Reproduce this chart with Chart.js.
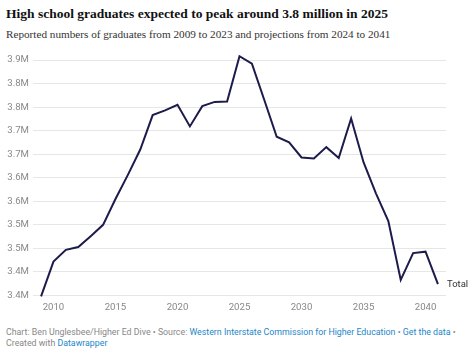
<!DOCTYPE html>
<html>
<head>
<meta charset="utf-8">
<script src="https://cdn.jsdelivr.net/npm/chart.js@4"></script>
<style>
body { margin: 0; background: #fff; }
#wrap { position: relative; width: 475px; height: 354px; overflow: hidden; }
#title { position: absolute; left: 6px; top: 6px; font: bold 13.5px "Liberation Serif", serif; color: #111; white-space: nowrap; }
#subtitle { position: absolute; left: 6px; top: 28px; font: 11.2px "Liberation Serif", serif; color: #333; white-space: nowrap; }
#box { position: absolute; left: 0; top: 48px; width: 475px; height: 270px; }
#footer { position: absolute; left: 6px; top: 327px; font: 8.8px Roboto, sans-serif; color: #888; line-height: 11px; width: 465px; }
#footer span.l { color: #1d87c9; }
</style>
</head>
<body>
<div id="wrap">
    <div id="title">High school graduates expected to peak around 3.8 million in 2025</div>
    <div id="subtitle">Reported numbers of graduates from 2009 to 2023 and projections from 2024 to 2041</div>
    <div id="box"><canvas id="gradChart"></canvas></div>
    <div id="footer">Chart: Ben Unglesbee/Higher Ed Dive • Source: <span class="l">Western Interstate Commission for Higher Education</span> • <span class="l">Get the data</span> •<br>Created with <span class="l">Datawrapper</span></div>
</div>
<script>
// Data
var years = [2009, 2010, 2011, 2012, 2013, 2014, 2015, 2016, 2017, 2018, 2019, 2020, 2021, 2022, 2023, 2024, 2025,
    2026, 2027, 2028, 2029, 2030, 2031, 2032, 2033, 2034, 2035, 2036, 2037, 2038, 2039, 2040, 2041];
var graduates = [3348000, 3422000, 3447000, 3453000, 3476000, 3500000, 3555000, 3606000, 3660000, 3733000, 3743000,
    3755000, 3709000, 3752000, 3761000, 3762000, 3858000, 3842000, 3765000, 3687000, 3675000, 3643000, 3641000,
    3665000, 3642000, 3726000, 3633000, 3567000, 3508000, 3383000, 3440000, 3443000, 3374000];
var xTickYears = [2010, 2015, 2020, 2025, 2030, 2035, 2040];
var seriesLabel = 'Total';

// Label at end of line
var endLabel = {
    id: 'endLabel',
    afterDatasetsDraw: function (chart)
    {
        var meta = chart.getDatasetMeta(0);
        var pt = meta.data[meta.data.length - 1];
        var ctx = chart.ctx;
        ctx.save();
        ctx.font = '9.5px Roboto, sans-serif';
        ctx.fillStyle = '#333';
        ctx.textBaseline = 'middle';
        ctx.fillText(seriesLabel, pt.x + 9, pt.y);
        ctx.restore();
    }
};

var ctx = document.getElementById('gradChart').getContext('2d');
var myChart = new Chart(ctx,
{
    type: 'line',
    data:
    {
        datasets: [
        {
            label: seriesLabel,
            data: years.map(function (y, i) { return { x: y, y: graduates[i] }; }),
            borderColor: '#1c1b4b',
            borderWidth: 2,
            pointRadius: 0,
            tension: 0,
            clip: false
        }]
    },
    options:
    {
        responsive: true,
        maintainAspectRatio: false,
        animation: false,
        layout: { padding: { left: 0, right: 29, top: 12, bottom: 0 } },
        plugins: { legend: { display: false }, tooltip: { enabled: false } },
        scales:
        {
            x:
            {
                type: 'linear',
                min: 2008.35,
                max: 2041.65,
                afterBuildTicks: function (scale)
                {
                    scale.ticks = xTickYears.map(function (v) { return { value: v }; });
                },
                afterFit: function (scale) { scale.height = 22.5; },
                grid: { display: false, drawTicks: false },
                border: { display: false },
                ticks:
                {
                    padding: 6,
                    color: '#888',
                    font: { family: 'Roboto', size: 9.6 },
                    maxRotation: 0,
                    callback: function (v) { return String(v); }
                }
            },
            y:
            {
                min: 3350000,
                max: 3850000,
                afterFit: function (scale) { scale.width = 33; },
                grid: { color: '#e6e6e6', drawTicks: false },
                border: { display: false },
                ticks:
                {
                    stepSize: 50000,
                    padding: 4,
                    color: '#888',
                    font: { family: 'Roboto', size: 9.6 },
                    callback: function (v) { return (Math.round(v / 100000) / 10).toFixed(1) + 'M'; }
                }
            }
        }
    },
    plugins: [endLabel]
});
</script>
</body>
</html>
